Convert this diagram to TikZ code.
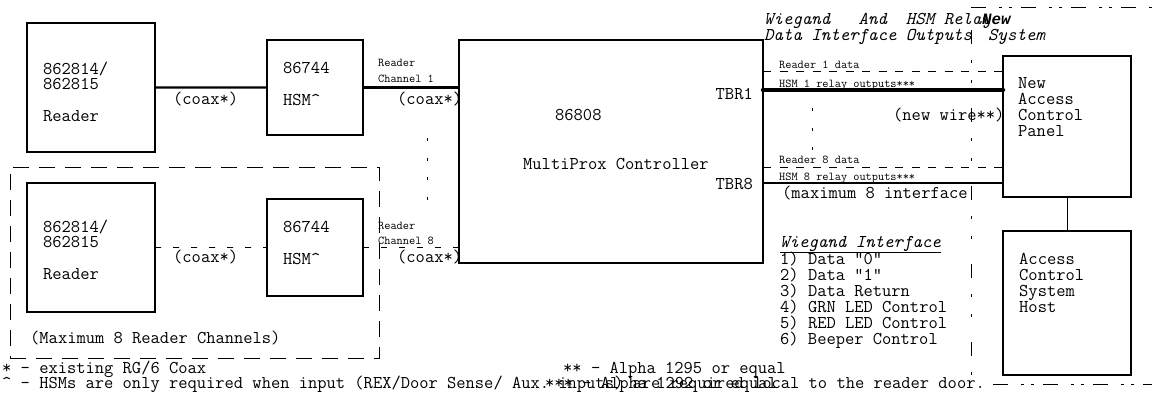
\documentclass[tikz,border=0pt]{standalone}
\usepackage{fontspec}
\renewcommand\familydefault{\ttdefault}
\newfontfamily\boldnew{Liberation Mono}
\frenchspacing
\newcommand\fbig{\fontsize{18bp}{18bp}\selectfont}
\newcommand\fsml{\fontsize{12bp}{12bp}\selectfont}
\tikzset{
  box/.style={draw, line width=2.6bp, inner sep=0pt, outer sep=0pt, anchor=north west},
  txt/.style={anchor=base west, inner sep=0pt, font=\fbig},
  txtr/.style={anchor=base east, inner sep=0pt, font=\fbig},
  sml/.style={anchor=base west, inner sep=0pt, font=\fsml},
  wire/.style={line width=2.4bp},
  dwire/.style={line width=0.9bp, dash pattern=on 6bp off 12bp},
  datal/.style={line width=0.9bp, dash pattern=on 8bp off 8.5bp},
  tickl/.style={line width=1bp, dash pattern=on 3bp off 16.5bp},
  grpbox/.style={draw, line width=0.9bp, dash pattern=on 16bp off 10bp, inner sep=0pt, outer sep=0pt, anchor=north west},
  bndv/.style={line width=0.9bp, dash pattern=on 14bp off 16bp on 3bp off 17bp on 3bp off 25bp, dash phase=55bp},
  bndh/.style={line width=0.9bp, dash pattern=on 15bp off 13bp on 3bp off 7bp on 3bp off 9bp},
}
\begin{document}
\begin{tikzpicture}[x=1bp,y=-1bp]
\useasboundingbox (0,0) rectangle (1152,392);

% group box
\node[grpbox, minimum width=369bp, minimum height=191bp] (grp) at (10,167) {};

% boxes
\node[box, minimum width=128bp, minimum height=129bp] (r1) at (27,23) {};
\node[box, minimum width=96bp, minimum height=95bp] (h1) at (267,40) {};
\node[box, minimum width=304bp, minimum height=223bp] (ctl) at (459,40) {};
\node[box, minimum width=128bp, minimum height=129bp] (r2) at (27,183) {};
\node[box, minimum width=96bp, minimum height=97bp] (h2) at (267,199) {};
\node[box, minimum width=128bp, minimum height=141bp] (nacp) at (1003,56) {};
\node[box, minimum width=128bp, minimum height=144bp] (host) at (1003,231) {};

% connectors
\draw[wire] (r1.east) -- (h1.west);
\draw[wire] (h1.east) -- (h1.east -| ctl.west);
\draw[dwire] (r2.east) -- (h2.west);
\draw[dwire] (h2.east) -- (h2.east -| ctl.west);
\coordinate (d1) at (763,71);
\coordinate (t1) at (763,90);
\coordinate (d8) at (763,167);
\coordinate (t8) at (763,183);
\draw[datal] (d1) -- (d1 -| nacp.west);
\draw[line width=4.5bp, line cap=round] (t1) -- (t1 -| nacp.west);
\draw[datal] (d8) -- (d8 -| nacp.west);
\draw[line width=2bp] (t8) -- (t8 -| nacp.west);
\draw[line width=1bp] (nacp.south) -- (host.north);

% tick lines
\coordinate (v1a) at (427,138);
\coordinate (v1b) at (427,216);
\draw[tickl] (v1a) -- (v1b);
\coordinate (v2a) at (812,108);
\coordinate (v2b) at (812,153);
\draw[tickl] (v2a) -- (v2b);

% new system boundary
\coordinate (bt) at (971,7);
\coordinate (bb) at (971,392);
\draw[bndv] (bt) -- (bb);
\coordinate (btr) at (1152,7);
\draw[bndh] (bt) -- (btr);
\coordinate (bbl) at (993,384);
\coordinate (bbr) at (1152,384);
\draw[bndh] (bbl) -- (bbr);

% reader 1 texts
\node[txt] (r1a) at (43,74) {862814/};
\node[txt] (r1b) at (43,89) {862815};
\node[txt] (r1c) at (43,121) {Reader};
\node[txt] (c1) at (173,104) {(coax*)};
\node[txt] (h1a) at (283,73) {86744};
\node[txt] (h1b) at (283,105) {HSM\textasciicircum};
\node[sml] (ch1a) at (378,66) {Reader};
\node[sml] (ch1b) at (378,82) {Channel 1};
\node[txt] (c1b) at (397,104) {(coax*)};

% reader 2 texts
\node[txt] (r2a) at (43,232) {862814/};
\node[txt] (r2b) at (43,247) {862815};
\node[txt] (r2c) at (43,279) {Reader};
\node[txt] (c2) at (173,262) {(coax*)};
\node[txt] (h2a) at (283,232) {86744};
\node[txt] (h2b) at (283,264) {HSM\textasciicircum};
\node[sml] (ch8a) at (378,229) {Reader};
\node[sml] (ch8b) at (378,244) {Channel 8};
\node[txt] (c2b) at (397,262) {(coax*)};
\node[txt] (grpt) at (30,343) {(Maximum 8 Reader Channels)};

% controller
\node[txt] (ctla) at (555,120) {86808};
\node[txt] (ctlb) at (523,169) {MultiProx Controller};
\node[txtr] (tbr1) at (753,99) {TBR1};
\node[txtr] (tbr8) at (753,189) {TBR8};

% interface labels
\node[txt, font=\fbig\itshape] (wh1) at (764,24) {Wiegand~~~And~~HSM Relay};
\node[txt, font=\fbig\itshape] (wh2) at (764,40) {Data Interface Outputs};
\node[txt, font=\boldnew\fontsize{15.8bp}{16bp}\selectfont\bfseries\itshape] (ns1) at (982,24) {New};
\node[txt, font=\fbig\itshape] (ns2) at (988,40) {System};
\node[sml] (l1) at (779,68) {Reader 1 data};
\node[sml] (l2) at (779,87) {HSM 1 relay outputs***};
\node[txt] (nw) at (893,120) {(new wire**)};
\node[sml] (l3) at (779,163) {Reader 8 data};
\node[sml] (l4) at (779,180) {HSM 8 relay outputs***};
\node[txt] (mx) at (782,198) {(maximum 8 interface};

% panel
\node[txt] (p1) at (1018,88) {New};
\node[txt] (p2) at (1018,104) {Access};
\node[txt] (p3) at (1018,120) {Control};
\node[txt] (p4) at (1018,136) {Panel};
\node[txt] (q1) at (1019,264) {Access};
\node[txt] (q2) at (1019,280) {Control};
\node[txt] (q3) at (1019,296) {System};
\node[txt] (q4) at (1019,312) {Host};

% wiegand list
\node[txt, font=\fbig\itshape] (wi) at (780,247) {\underline{Wiegand Interface}};
\node[txt] (w1) at (780,264) {1) Data \symbol{34}0\symbol{34}};
\node[txt] (w2) at (780,280) {2) Data \symbol{34}1\symbol{34}};
\node[txt] (w3) at (780,296) {3) Data Return};
\node[txt] (w4) at (780,312) {4) GRN LED Control};
\node[txt] (w5) at (780,328) {5) RED LED Control};
\node[txt] (w6) at (780,344) {6) Beeper Control};

% footnotes
\node[txt] (f1) at (2,373) {* - existing RG/6 Coax};
\node[txt] (f2) at (563,373) {** - Alpha 1295 or equal};
\node[txt] (f3) at (2,388) {\textasciicircum{} - HSMs are only required when input (REX/Door Sense/ Aux. inputs) are required local to the reader door.};
\node[txt] (f4) at (545,388) {*** - Alpha 1292 or equal};
\end{tikzpicture}
\end{document}
